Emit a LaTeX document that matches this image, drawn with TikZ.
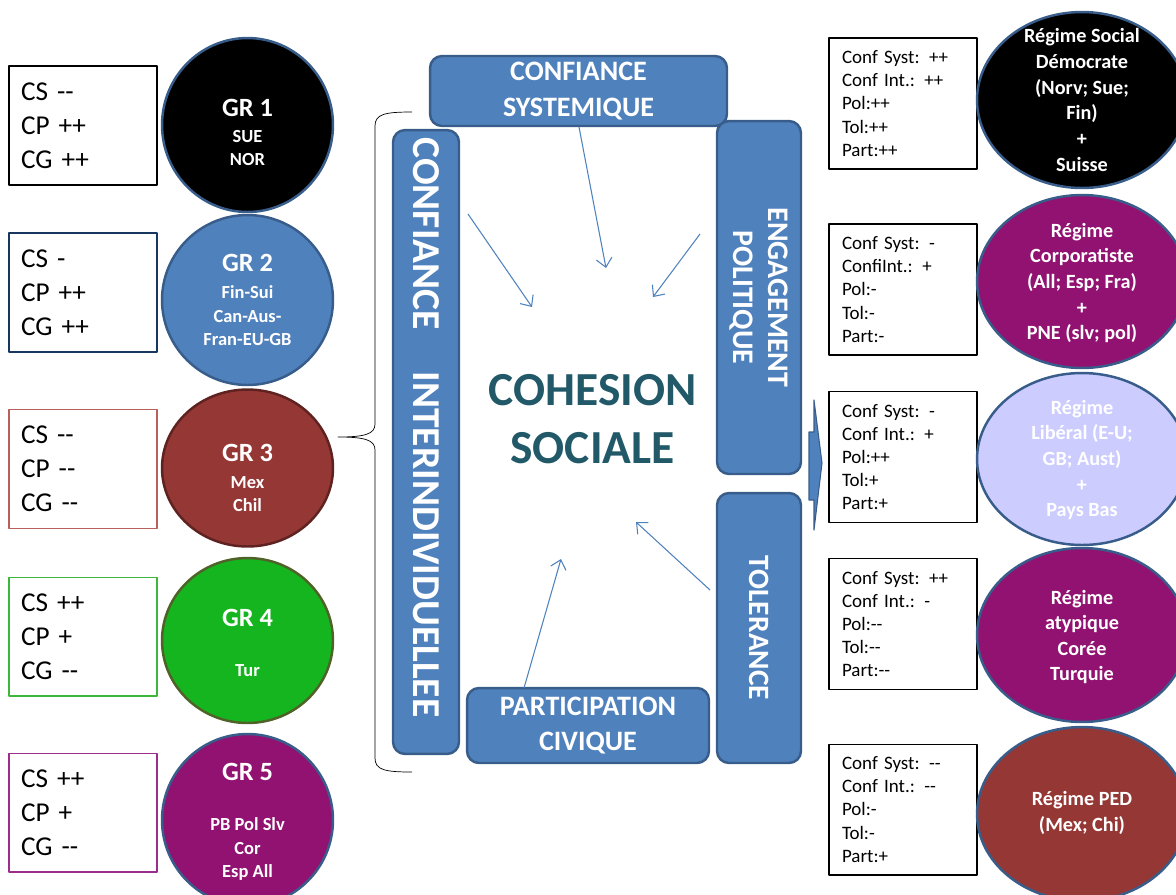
\documentclass[tikz,border=0pt]{standalone}
\usepackage{fontspec}
\setmainfont{Carlito}
\usetikzlibrary{arrows.meta, shapes.geometric}

\definecolor{themeblue}{HTML}{4F81BD}
\definecolor{themeedge}{HTML}{385D8A}
\definecolor{redfill}{HTML}{953735}
\definecolor{rededge}{HTML}{5E2321}
\definecolor{greenfill}{HTML}{14B51F}
\definecolor{greenedge}{HTML}{4F6228}
\definecolor{purplefill}{HTML}{921271}
\definecolor{lavenderfill}{HTML}{CCCCFF}
\definecolor{tealtext}{HTML}{215968}
\definecolor{navyline}{HTML}{17375E}
\definecolor{roseline}{HTML}{B9605C}
\definecolor{greenline}{HTML}{3CB73C}
\definecolor{plumline}{HTML}{9B2D8B}

\newcommand{\dbldash}{\mbox{-}\mbox{-}}
\newcommand{\grhead}[1]{{\fontsize{15}{15}\selectfont #1}}

\tikzset{
  theme/.style={draw=themeedge, line width=1.4pt, fill=themeblue, rounded corners=0.24cm,
    text=white, align=center, inner sep=0pt, font=\bfseries\fontsize{16}{20.4}\selectfont},
  scorebox/.style={draw, line width=0.6pt, minimum width=2.96cm, minimum height=2.38cm,
    text width=2.48cm, inner xsep=0.24cm, align=left, font=\fontsize{15.5}{19.4}\selectfont},
  regbox/.style={draw, line width=0.6pt, minimum width=2.96cm, minimum height=2.62cm,
    text width=2.44cm, inner xsep=0.26cm, align=left, font=\fontsize{10.8}{13.2}\selectfont},
  grdisc/.style={ellipse, line width=1.4pt, inner sep=0pt, minimum width=3.42cm},
  grlabel/.style={text=white, align=center, inner sep=0pt, font=\bfseries\fontsize{10.5}{13.4}\selectfont},
  regdisc/.style={ellipse, draw=themeedge, line width=1.4pt, inner sep=0pt, minimum width=4.2cm},
  reglabel/.style={text=white, align=center, inner sep=0pt, font=\bfseries\fontsize{11.5}{14.6}\selectfont},
  link/.style={themeblue, line width=0.6pt, -{Straight Barb[length=5pt, width=9pt]}}
}

\begin{document}
\begin{tikzpicture}[x=0.02cm, y=-0.02cm, line join=round]
\clip (0,0) rectangle (1176,894);

\node[scorebox] (cs1) at (83,125.5) {CS \dbldash\\CP ++\\CG ++};
\node[scorebox, draw=navyline] (cs2) at (83,292.5) {CS -\\CP ++\\CG ++};
\node[scorebox, draw=roseline] (cs3) at (83,469) {CS \dbldash\\CP \dbldash\\CG \dbldash};
\node[scorebox, draw=greenline] (cs4) at (83,636.5) {CS ++\\CP +\\CG \dbldash};
\node[scorebox, draw=plumline] (cs5) at (83,812.5) {CS ++\\CP +\\CG \dbldash};

\node[grdisc, draw=themeedge, fill=black, minimum height=3.48cm] (gr1) at (247.5,125) {};
\node[grdisc, draw=themeedge, fill=themeblue, minimum height=3.40cm] (gr2) at (247.5,300) {};
\node[grdisc, draw=rededge, fill=redfill, minimum height=3.14cm] (gr3) at (247.5,468) {};
\node[grdisc, draw=greenedge, fill=greenfill, minimum height=3.30cm] (gr4) at (247.5,640.5) {};
\node[grdisc, draw=themeedge, fill=purplefill, minimum height=3.44cm] (gr5) at (247.5,820) {};
\node[grlabel] (gr1txt) at (247.5,132.5) {\grhead{GR 1}\\[1.4pt]SUE\\NOR};
\node[grlabel] (gr2txt) at (247.5,300) {\grhead{GR 2}\\[2pt]Fin-Sui\\Can-Aus-\\Fran-EU-GB};
\node[grlabel] (gr3txt) at (247.5,478) {\grhead{GR 3}\\[2pt]Mex\\Chil};
\node[grlabel] (gr4txt) at (247.5,643) {\grhead{GR 4}\\[15pt]Tur};
\node[grlabel] (gr5txt) at (247.5,822) {\grhead{GR 5}\\[15pt]PB Pol Slv\\Cor\\Esp All};

\draw (412,112) .. controls (385,112) and (375,114) .. (375,126) -- (375,424)
  .. controls (375,434) and (365,437) .. (338,437)
  .. controls (365,437) and (375,440) .. (375,450) -- (375,758)
  .. controls (375,770) and (385,772) .. (412,772);

\node[theme, minimum width=5.94cm, minimum height=1.4cm] (sys) at (578.5,91) {CONFIANCE\\SYSTEMIQUE};
\node[theme, rotate=-90, minimum width=12.48cm, minimum height=1.32cm,
  font=\bfseries\fontsize{22.5}{26}\selectfont] (inter) at (426,442)
  {CONFIANCE\hspace{0.84cm}INTERINDIVIDUELLEE\hspace{0.58cm}};
\node[theme, rotate=-90, minimum width=7.06cm, minimum height=1.68cm,
  font=\bfseries\fontsize{17}{20}\selectfont] (pol) at (759,297.5) {ENGAGEMENT\\POLITIQUE};
\node[theme, rotate=-90, minimum width=5.4cm, minimum height=1.68cm,
  font=\bfseries\fontsize{16.8}{20}\selectfont] (tol) at (759,628) {TOLERANCE};
\node[theme, minimum width=4.84cm, minimum height=1.5cm] (part) at (588,725.5) {PARTICIPATION\\CIVIQUE};

\node[text=tealtext, align=center, font=\bfseries\fontsize{27}{33}\selectfont] (cohesion) at (592.5,419)
  {COHESION\\SOCIALE};

\coordinate (sysfoot) at (579,127);
\coordinate (systip) at (606,268);
\coordinate (interfoot) at (468,214);
\coordinate (intertip) at (532,307);
\coordinate (polfoot) at (700,234);
\coordinate (poltip) at (653,297);
\coordinate (tolfoot) at (710,590);
\coordinate (toltip) at (636,522);
\coordinate (partfoot) at (524,688);
\coordinate (parttip) at (561,559);
\draw[link] (sysfoot) -- (systip);
\draw[link] (interfoot) -- (intertip);
\draw[link] (polfoot) -- (poltip);
\draw[link] (tolfoot) -- (toltip);
\draw[link] (partfoot) -- (parttip);

\draw[draw=themeedge, fill=themeblue, line width=0.6pt] (809,432) -- (814,432) -- (814,400)
  -- (822,463) -- (814,530) -- (814,500) -- (809,500) -- cycle;

\node[regbox] (reg1box) at (903,103.5) {Conf Syst: ++\\Conf Int.: ++\\Pol:++\\Tol:++\\Part:++};
\node[regbox] (reg2box) at (903,289.5) {Conf Syst: -\\ConfiInt.: +\\Pol:-\\Tol:-\\Part:-};
\node[regbox] (reg3box) at (903,457) {Conf Syst: -\\Conf Int.: +\\Pol:++\\Tol:+\\Part:+};
\node[regbox] (reg4box) at (903,624) {Conf Syst: ++\\Conf Int.: -\\Pol:\dbldash\\Tol:\dbldash\\Part:\dbldash};
\node[regbox] (reg5box) at (903,809.5) {Conf Syst: \dbldash\\Conf Int.: \dbldash\\Pol:-\\Tol:-\\Part:+};

\node[regdisc, fill=black, minimum height=3.52cm] (reg1) at (1082,100) {};
\node[regdisc, fill=purplefill, minimum height=3.46cm] (reg2) at (1082,281.5) {};
\node[regdisc, fill=lavenderfill, minimum height=3.44cm] (reg3) at (1082,459) {};
\node[regdisc, fill=purplefill, minimum height=3.48cm] (reg4) at (1082,635) {};
\node[regdisc, fill=redfill, minimum height=3.48cm] (reg5) at (1082,814) {};
\node[reglabel] (reg1txt) at (1082,100) {Régime Social\\Démocrate\\(Norv; Sue;\\Fin)\\+\\Suisse};
\node[reglabel] (reg2txt) at (1082,283) {Régime\\Corporatiste\\(All; Esp; Fra)\\+\\PNE (slv; pol)};
\node[reglabel] (reg3txt) at (1082,460) {Régime\\Libéral (E-U;\\GB; Aust)\\+\\Pays Bas};
\node[reglabel] (reg4txt) at (1082,637) {Régime\\atypique\\Corée\\Turquie};
\node[reglabel] (reg5txt) at (1082,813) {Régime PED\\(Mex; Chi)};
\end{tikzpicture}
\end{document}
